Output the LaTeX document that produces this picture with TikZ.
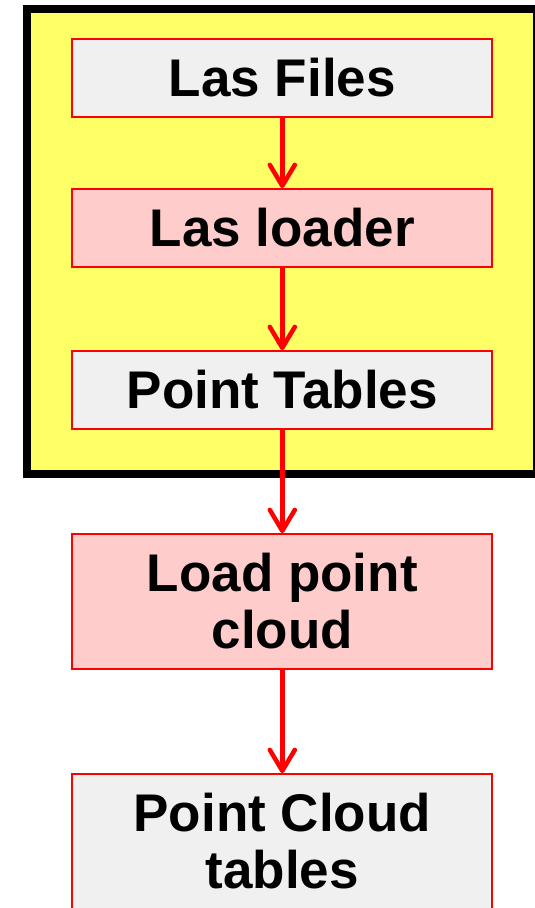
\documentclass[tikz,border=0pt]{standalone}
\usepackage{fontspec}
\setmainfont{Liberation Sans}
\usetikzlibrary{arrows.meta}
\definecolor{boxgrey}{HTML}{F0F0F0}
\definecolor{boxpink}{HTML}{FFCCCC}
\definecolor{frameyellow}{HTML}{FFFF66}
\definecolor{linered}{HTML}{FF0000}
\begin{document}
\begin{tikzpicture}[x=1pt,y=1pt,
  stepbox/.style={draw=linered, line width=1.8pt, minimum width=420pt,
    align=center, inner sep=0pt,
    font=\fontsize{53}{57}\selectfont\bfseries},
  onebox/.style={stepbox, minimum height=78pt},
  twobox/.style={stepbox, minimum height=135pt},
  flow/.style={draw=linered, line width=4.5pt,
    -{Straight Barb[length=21pt,width=25pt,line cap=round,line join=round]}}
]
\useasboundingbox (0,0) rectangle (535,-908);
\clip (0,0) rectangle (535,-908);
% frame
\draw[line width=7.5pt, fill=frameyellow] (27,-8.75) rectangle (537,-473.8);
% nodes
\node[onebox, fill=boxgrey] (files) at (282.3,-78) {Las Files};
\node[onebox, fill=boxpink] (loader) at (282.3,-228) {Las loader};
\node[onebox, fill=boxgrey] (tables) at (282.3,-390) {Point Tables};
\node[twobox, fill=boxpink] (load) at (282.3,-601.5) {Load point\\cloud};
\node[twobox, fill=boxgrey] (cloud) at (282.3,-841.5) {Point Cloud\\tables};
% connectors
\draw[flow] (files) -- (loader);
\draw[flow] (loader) -- (tables);
\draw[flow] (tables) -- (load);
\draw[flow] (load) -- (cloud);
\end{tikzpicture}
\end{document}
